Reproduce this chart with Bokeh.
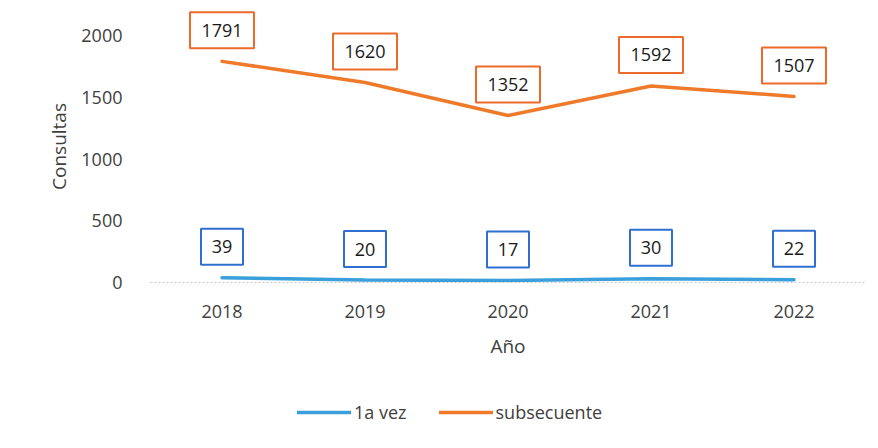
from bokeh.plotting import figure
from bokeh.models import ColumnDataSource, Legend, LegendItem, FixedTicker
from bokeh.layouts import column
from bokeh.core.properties import value
from bokeh.embed import file_html
from bokeh.resources import INLINE

years = ["2018", "2019", "2020", "2021", "2022"]
primera_vez = [39, 20, 17, 30, 22]
subsecuente = [1791, 1620, 1352, 1592, 1507]
y_ticks = [0, 500, 1000, 1500, 2000]
series_names = ["1a vez", "subsecuente"]

BLUE = "#3A9FDB"
ORANGE = "#EE7A2A"
FONT = "Open Sans"
TXT = "#404040"

W = 878
H1, H2 = 375, 73
TOP, BOTTOM = 10, 93
Y_END = 2203
FRAME_H = H1 - TOP - BOTTOM
LABEL_PX = 31
label_off = LABEL_PX * Y_END / FRAME_H  # data units for a 31px lift

src = ColumnDataSource(dict(
    x=years, a=primera_vez, b=subsecuente,
    a_lab=[v + label_off for v in primera_vez],
    b_lab=[v + label_off for v in subsecuente],
    a_txt=[str(v) for v in primera_vez],
    b_txt=[str(v) for v in subsecuente],
))

p = figure(width=W, height=H1, x_range=years, y_range=(0, Y_END),
           output_backend="svg", toolbar_location=None,
           min_border_left=150, min_border_right=13, min_border_top=TOP,
           min_border_bottom=BOTTOM)
p.outline_line_color = None
p.xgrid.grid_line_color = None
p.ygrid.grid_line_color = None
p.background_fill_color = "white"
p.border_fill_color = "white"

p.line("x", "a", source=src, line_color=BLUE, line_width=3.5, line_cap="round")
p.line("x", "b", source=src, line_color=ORANGE, line_width=3.5, line_cap="round")

# data label boxes
p.rect("x", "a_lab", width=42, height=36, width_units="screen", height_units="screen",
       source=src, fill_color="white", line_color="#2F6FD0", line_width=2)
p.rect("x", "b_lab", width=64, height=36, width_units="screen", height_units="screen",
       source=src, fill_color="white", line_color="#EC6A2A", line_width=2)
p.text("x", "a_lab", text="a_txt", source=src, text_align="center", text_baseline="middle",
       text_font=value(FONT), text_font_size="18px", text_color="#1a1a1a")
p.text("x", "b_lab", text="b_txt", source=src, text_align="center", text_baseline="middle",
       text_font=value(FONT), text_font_size="18px", text_color="#1a1a1a")

p.yaxis.ticker = FixedTicker(ticks=y_ticks)
for ax in (p.xaxis, p.yaxis):
    ax.major_tick_line_color = None
    ax.minor_tick_line_color = None
    ax.major_label_text_font = FONT
    ax.major_label_text_font_size = "18px"
    ax.major_label_text_color = TXT
    ax.axis_label_text_font = FONT
    ax.axis_label_text_font_size = "19px"
    ax.axis_label_text_font_style = "normal"
    ax.axis_label_text_color = TXT
p.yaxis.axis_line_color = None
p.xaxis.axis_line_color = "#c8c8c8"
p.xaxis.axis_line_dash = "2 2"
p.xaxis.axis_line_width = 1
p.yaxis.major_label_standoff = 22
p.xaxis.major_label_standoff = 16
p.xaxis.axis_label = "Año"
p.xaxis.axis_label_standoff = 12
p.yaxis.axis_label = "Consultas"
p.yaxis.axis_label_standoff = 6

# legend strip underneath (its frame is aligned with the chart's frame by the column)
q = figure(width=W, height=H2, x_range=(0, 1), y_range=(0, 1),
           output_backend="svg", toolbar_location=None,
           x_axis_type=None, y_axis_type=None,
           min_border_left=0, min_border_right=0, min_border_top=0, min_border_bottom=0)
q.outline_line_color = None
q.xgrid.grid_line_color = None
q.ygrid.grid_line_color = None
q.border_fill_color = "white"
q.background_fill_color = "white"
# legend key renderers kept outside the visible range of the strip
l1 = q.line([0, 1], [-5, -5], line_color=BLUE, line_width=3.5, line_cap="round")
l2 = q.line([0, 1], [-5, -5], line_color=ORANGE, line_width=3.5, line_cap="round")
legend = Legend(items=[LegendItem(label=series_names[0], renderers=[l1]),
                       LegendItem(label=series_names[1], renderers=[l2])],
                orientation="horizontal", location=(147, 24),
                glyph_width=54, glyph_height=20, label_standoff=3, spacing=32,
                padding=0, margin=0, border_line_color=None,
                background_fill_alpha=0,
                label_text_font=FONT, label_text_font_size="18px", label_text_color=TXT)
q.add_layout(legend, "center")

open("out.html", "w").write(file_html(column(p, q, spacing=0), INLINE))
